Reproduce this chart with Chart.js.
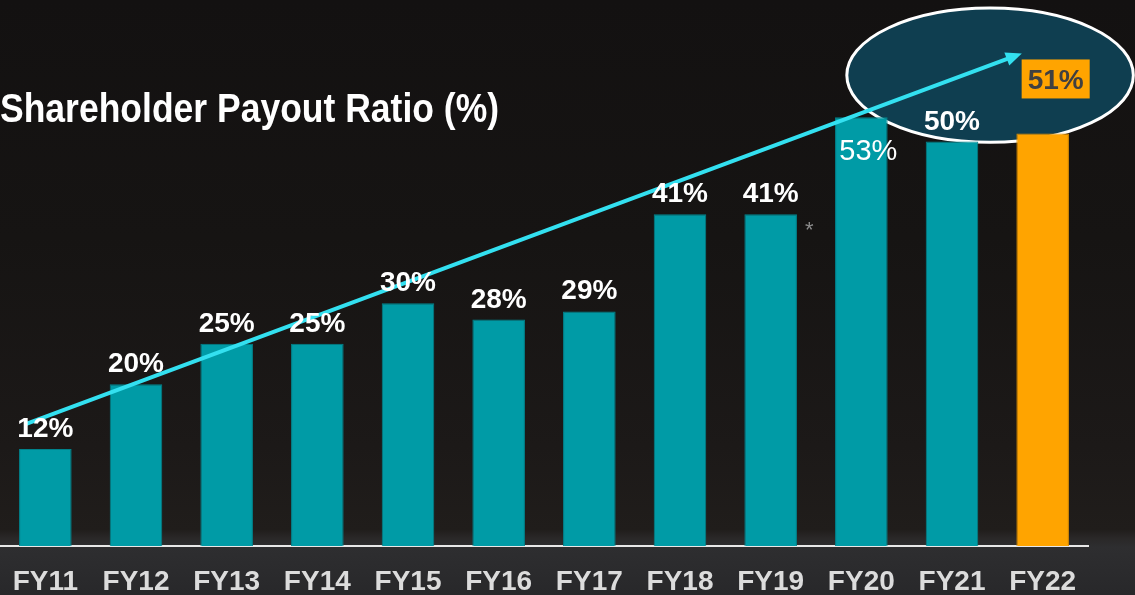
<!DOCTYPE html>
<html>
<head>
<meta charset="utf-8">
<script src="https://cdn.jsdelivr.net/npm/chart.js@4/dist/chart.umd.min.js"></script>
<style>
  html, body { margin: 0; padding: 0; }
  body {
    width: 1135px; height: 595px; overflow: hidden;
    background: linear-gradient(to bottom, #131111 0%, #161413 40%, #1c1918 75%, #201d1b 89%, #2a2828 90.5%, #2e2e30 92%, #28282a 100%);
  }
</style>
</head>
<body>
<canvas id="payoutChart" width="1135" height="595"></canvas>
<script>
const years = ['FY11', 'FY12', 'FY13', 'FY14', 'FY15', 'FY16', 'FY17', 'FY18', 'FY19', 'FY20', 'FY21', 'FY22'];
const payoutRatio = [12, 20, 25, 25, 30, 28, 29, 41, 41, 53, 50, 51];
const yMax = 67.5;

// trend arrow and highlight ellipse, in axis units (category index, %)
const arrowFrom = { x: -0.21, y: 15.1 };
const arrowTo = { x: 10.77, y: 60.9 };
const ellipseCenter = { x: 10.42, y: 58.2 };
const ellipseRadius = { x: 1.58, y: 8.3 };

const TEAL = '#009ba6';
const ORANGE = '#ffa400';
const FONT = '"Liberation Sans", Arial, sans-serif';

const barColors = payoutRatio.map((v, i) => i === payoutRatio.length - 1 ? ORANGE : TEAL);

const overlay = {
    id: 'overlay',
    beforeDatasetsDraw(chart) {
        const { ctx, scales: { x, y } } = chart;
        const cx = x.getPixelForValue(ellipseCenter.x);
        const cy = y.getPixelForValue(ellipseCenter.y);
        const rx = x.getPixelForValue(ellipseCenter.x + ellipseRadius.x) - cx;
        const ry = cy - y.getPixelForValue(ellipseCenter.y + ellipseRadius.y);
        ctx.save();
        ctx.beginPath();
        ctx.ellipse(cx, cy, rx, ry, 0, 0, Math.PI * 2);
        ctx.fillStyle = '#0f3e50';
        ctx.fill();
        ctx.lineWidth = 3;
        ctx.strokeStyle = '#ffffff';
        ctx.stroke();
        ctx.restore();
    },
    afterDatasetsDraw(chart) {
        const { ctx, scales: { x, y } } = chart;
        const meta = chart.getDatasetMeta(0);
        ctx.save();

        // trend arrow
        const x1 = x.getPixelForValue(arrowFrom.x), y1 = y.getPixelForValue(arrowFrom.y);
        const x2 = x.getPixelForValue(arrowTo.x), y2 = y.getPixelForValue(arrowTo.y);
        const ang = Math.atan2(y2 - y1, x2 - x1);
        ctx.strokeStyle = '#33e0f0';
        ctx.fillStyle = '#33e0f0';
        ctx.lineWidth = 4;
        ctx.beginPath();
        ctx.moveTo(x1, y1);
        ctx.lineTo(x2 - 12 * Math.cos(ang), y2 - 12 * Math.sin(ang));
        ctx.stroke();
        ctx.beginPath();
        ctx.moveTo(x2, y2);
        ctx.lineTo(x2 - 16 * Math.cos(ang) + 7 * Math.sin(ang), y2 - 16 * Math.sin(ang) - 7 * Math.cos(ang));
        ctx.lineTo(x2 - 16 * Math.cos(ang) - 7 * Math.sin(ang), y2 - 16 * Math.sin(ang) + 7 * Math.cos(ang));
        ctx.closePath();
        ctx.fill();

        // value labels
        ctx.textAlign = 'center';
        ctx.textBaseline = 'alphabetic';
        meta.data.forEach((bar, i) => {
            const txt = payoutRatio[i] + '%';
            const last = i === payoutRatio.length - 1;
            if (i === 9) {
                ctx.font = '29px ' + FONT;
                ctx.fillStyle = '#ffffff';
                ctx.fillText(txt, bar.x + 7, bar.y + 43);
            } else if (last) {
                ctx.font = 'bold 28px ' + FONT;
                const w = ctx.measureText(txt).width;
                const bx = bar.x + 13;
                ctx.fillStyle = ORANGE;
                ctx.fillRect(bx - w / 2 - 6, bar.y - 74, w + 12, 39);
                ctx.fillStyle = '#404040';
                ctx.fillText(txt, bx, bar.y - 44);
            } else {
                ctx.font = 'bold 28px ' + FONT;
                ctx.fillStyle = '#ffffff';
                ctx.fillText(txt, bar.x, bar.y - 12);
            }
        });

        // footnote marker next to FY19
        const b19 = meta.data[8];
        ctx.font = '22px ' + FONT;
        ctx.fillStyle = '#8c8c8c';
        ctx.textAlign = 'left';
        ctx.fillText('*', b19.x + b19.width / 2 + 8, b19.y + 23);

        // title
        ctx.save();
        ctx.translate(0, 122);
        ctx.scale(1, 1.14);
        ctx.font = 'bold 35.5px ' + FONT;
        ctx.fillStyle = '#ffffff';
        ctx.fillText('Shareholder Payout Ratio (%)', 0, 0);
        ctx.restore();

        ctx.restore();
    }
};

new Chart(document.getElementById('payoutChart').getContext('2d'), {
    type: 'bar',
    data: {
        labels: years,
        datasets: [{
            data: payoutRatio,
            backgroundColor: barColors,
            borderColor: barColors.map(c => c === ORANGE ? '#d98c00' : '#00838c'),
            borderWidth: 1,
            barPercentage: 0.58,
            categoryPercentage: 1
        }]
    },
    options: {
        responsive: false,
        animation: false,
        layout: { padding: { left: 0, right: 47, top: 0, bottom: 0 } },
        plugins: { legend: { display: false }, tooltip: { enabled: false }, title: { display: false } },
        scales: {
            x: {
                grid: { display: false, drawTicks: false },
                border: { display: true, color: '#e8e8e8', width: 2 },
                ticks: { color: '#dcdcdc', font: { family: FONT, size: 28, weight: 'bold' }, padding: 19 },
                afterFit(scale) {
                    scale.height = 49;
                    scale.paddingLeft = 0;
                    scale.paddingRight = 0;
                }
            },
            y: {
                display: false,
                min: 0,
                max: yMax
            }
        }
    },
    plugins: [overlay]
});
</script>
</body>
</html>
